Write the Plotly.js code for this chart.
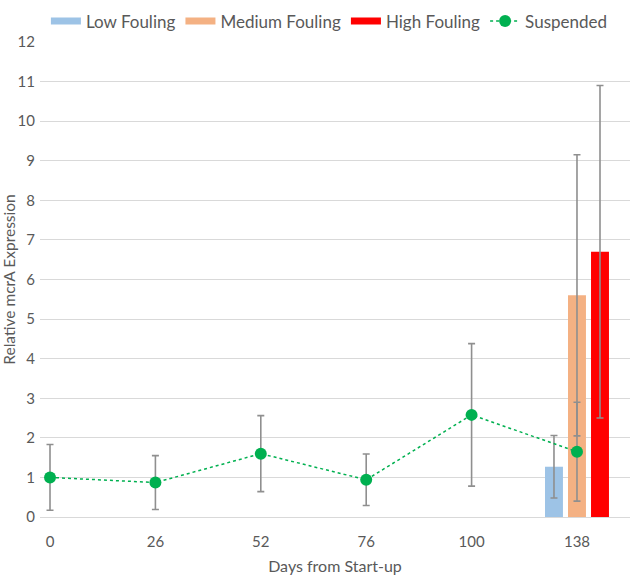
<!DOCTYPE html>
<html>
<head>
<meta charset="utf-8">
<script src="https://cdn.plot.ly/plotly-3.0.1.min.js"></script>
<style>html,body{margin:0;padding:0;background:#fff;}#chart{width:634px;height:578px;}</style>
</head>
<body>
<div id="chart"></div>
<script>
// Data
const days = ["0", "26", "52", "76", "100", "138"];
const suspended = [1.0, 0.87, 1.6, 0.94, 2.58, 1.65];
const suspendedErr = [0.83, 0.68, 0.96, 0.65, 1.8, 1.25];
const foulingDay = ["138"];
const lowFouling = [1.27];
const lowErr = [0.79];
const mediumFouling = [5.6];
const mediumErr = [3.55];
const highFouling = [6.7];
const highErr = [4.2];

const colors = {low: "#9dc3e6", medium: "#f4b183", high: "#ff0000", susp: "#00b050", err: "#8f8f8f"};
const errStyle = (arr) => ({type: "data", array: arr, visible: true, color: colors.err, thickness: 1.6, width: 3.5});

const traces = [
  {type: "bar", name: "Low Fouling", x: foulingDay, y: lowFouling, marker: {color: colors.low},
   error_y: errStyle(lowErr), showlegend: false, hoverinfo: "skip"},
  {type: "bar", name: "Medium Fouling", x: foulingDay, y: mediumFouling, marker: {color: colors.medium},
   error_y: errStyle(mediumErr), showlegend: false, hoverinfo: "skip"},
  {type: "bar", name: "High Fouling", x: foulingDay, y: highFouling, marker: {color: colors.high},
   error_y: errStyle(highErr), showlegend: false, hoverinfo: "skip"},
  // legend swatches
  {type: "scatter", mode: "lines", name: "Low Fouling", x: [null], y: [null], line: {color: colors.low, width: 7}},
  {type: "scatter", mode: "lines", name: "Medium Fouling", x: [null], y: [null], line: {color: colors.medium, width: 7}},
  {type: "scatter", mode: "lines", name: "High Fouling", x: [null], y: [null], line: {color: colors.high, width: 7}},
  {type: "scatter", mode: "lines+markers", name: "Suspended", x: days, y: suspended,
   line: {color: colors.susp, width: 1.5, dash: "dot"},
   marker: {color: colors.susp, size: 12},
   error_y: errStyle(suspendedErr)}
];

const layout = {
  width: 634, height: 578,
  margin: {l: 40, r: 4, t: 38, b: 61},
  paper_bgcolor: "#ffffff", plot_bgcolor: "#ffffff",
  font: {family: "Lato, 'Open Sans', sans-serif", size: 15, color: "#595959"},
  barmode: "group", bargap: 0.345, bargroupgap: 0.22,
  showlegend: true,
  legend: {orientation: "h", x: 0.01, xanchor: "left", y: 1.081, yanchor: "top",
           font: {size: 17, color: "#595959"}, traceorder: "normal", itemwidth: 30, tracegroupgap: 0},
  xaxis: {type: "category", categoryorder: "array", categoryarray: days,
          range: [-0.095, 5.503], showgrid: false, zeroline: false, showline: false,
          ticks: "", ticklabelstandoff: 14, tickfont: {size: 15, color: "#595959"},
          title: {text: "Days from Start-up", font: {size: 16, color: "#595959"}, standoff: 11}},
  yaxis: {range: [0, 12], dtick: 1, tick0: 0, showgrid: true, gridcolor: "#d9d9d9", gridwidth: 1,
          zeroline: true, zerolinecolor: "#d9d9d9", zerolinewidth: 1, showline: false, ticks: "",
          ticklabelstandoff: 4, tickfont: {size: 15, color: "#595959"},
          title: {text: "Relative mcrA Expression", font: {size: 15.5, color: "#595959"}, standoff: 2}}
};

Plotly.newPlot("chart", traces, layout, {displayModeBar: false, staticPlot: true});
</script>
</body>
</html>
